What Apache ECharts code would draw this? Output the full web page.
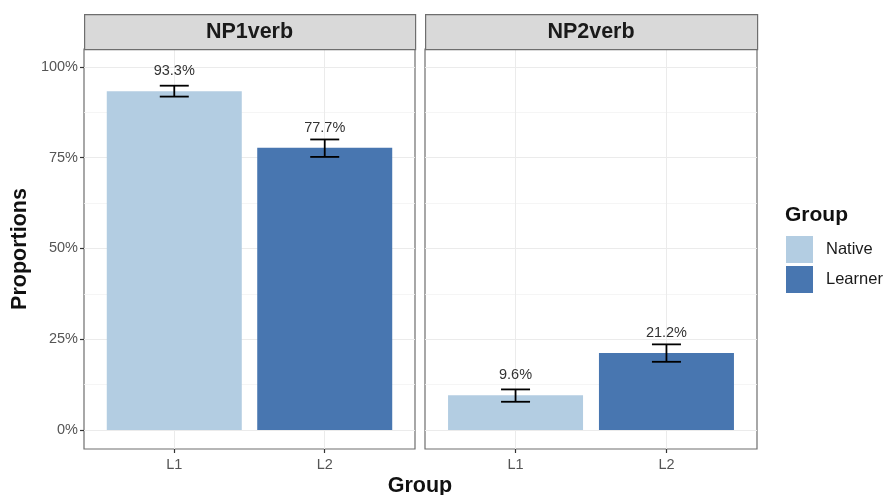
<!DOCTYPE html>
<html>
<head>
<meta charset="utf-8">
<script src="https://cdn.jsdelivr.net/npm/echarts@6/dist/echarts.min.js"></script>
<style>html,body{margin:0;padding:0;background:#fff}#c{width:885px;height:495px}</style>
</head>
<body>
<div id="c"></div>
<script>
const panels = ['NP1verb', 'NP2verb'];
const categories = ['L1', 'L2'];
const groups = ['Native', 'Learner'];
const nativeValues = [93.3, 9.6];     // L1 per panel
const learnerValues = [77.7, 21.2];   // L2 per panel
const nativeLower = [91.8, 7.8];
const nativeUpper = [94.8, 11.2];
const learnerLower = [75.2, 18.8];
const learnerUpper = [80.0, 23.6];
const yTicks = [0, 25, 50, 75, 100];
const yMinor = [12.5, 37.5, 62.5, 87.5];

const colors = ['#b3cde2', '#4876b0'];
const FONT = 'Liberation Sans, Arial, sans-serif';

const chart = echarts.init(document.getElementById('c'));

const gridsPos = [{left: 84, width: 331}, {left: 425, width: 332}];
const grids = gridsPos.map(g => ({left: g.left, width: g.width, top: 49, height: 400,
  show: true, borderColor: '#6e6e6e', borderWidth: 1.2, backgroundColor: '#fff', containLabel: false}));

const xAxes = [], yAxes = [];
panels.forEach((p, i) => {
  xAxes.push({
    type: 'value', gridIndex: i, min: 0.4, max: 2.6, position: 'bottom',
    axisLine: {show: false, onZero: false},
    axisTick: {show: true, customValues: [1, 2], length: 4, lineStyle: {color: '#333', width: 1.2}},
    axisLabel: {show: true, customValues: [1, 2], formatter: v => categories[Math.round(v) - 1],
      color: '#555', fontSize: 14.5, fontFamily: FONT, margin: 8},
    splitLine: {show: true, lineStyle: {color: '#ebebeb', width: 1}}
  });
  yAxes.push({
    type: 'value', gridIndex: i, min: -5.2, max: 104.9,
    axisLine: {show: false, onZero: false},
    axisTick: {show: i === 0, customValues: yTicks, length: 4, lineStyle: {color: '#333', width: 1.2}},
    axisLabel: {show: i === 0, customValues: yTicks, formatter: v => v + '%',
      color: '#555', fontSize: 14.5, fontFamily: FONT, margin: 6},
    splitLine: {show: true, lineStyle: {color: '#ebebeb', width: 1}},
    name: i === 0 ? 'Proportions' : '', nameLocation: 'middle', nameGap: 53,
    nameTextStyle: {fontSize: 21.5, fontWeight: 'bold', color: '#111', fontFamily: FONT}
  });
});
// minor grid lines (hidden axes)
panels.forEach((p, i) => {
  yAxes.push({
    type: 'value', gridIndex: i, min: -5.2, max: 104.9,
    axisLine: {show: false, onZero: false}, axisLabel: {show: false, customValues: yMinor},
    axisTick: {show: false, customValues: yMinor},
    splitLine: {show: true, lineStyle: {color: '#f2f2f2', width: 0.8}}
  });
});

const series = [];
panels.forEach((p, i) => {
  [[nativeValues, 1, 0], [learnerValues, 2, 1]].forEach(([vals, x, gi]) => {
    series.push({
      type: 'bar', name: groups[gi], xAxisIndex: i, yAxisIndex: i,
      data: [[x, vals[i]]], barWidth: 135, barGap: '-100%',
      itemStyle: {color: colors[gi]},
      label: {show: true, position: 'top', distance: 12.5, fontSize: 14.5, color: '#333', fontFamily: FONT,
        formatter: d => d.value[1].toFixed(1) + '%'},
      z: 2
    });
  });
  series.push({
    type: 'custom', xAxisIndex: i, yAxisIndex: i, silent: true, z: 5,
    data: [[1, nativeLower[i], nativeUpper[i]], [2, learnerLower[i], learnerUpper[i]]],
    renderItem: (params, api) => {
      const lo = api.coord([api.value(0), api.value(1)]);
      const hi = api.coord([api.value(0), api.value(2)]);
      const hw = 14.5;
      const st = {stroke: '#000', lineWidth: 1.8};
      return {type: 'group', children: [
        {type: 'line', shape: {x1: lo[0], y1: lo[1], x2: hi[0], y2: hi[1]}, style: st},
        {type: 'line', shape: {x1: lo[0] - hw, y1: lo[1], x2: lo[0] + hw, y2: lo[1]}, style: st},
        {type: 'line', shape: {x1: hi[0] - hw, y1: hi[1], x2: hi[0] + hw, y2: hi[1]}, style: st}
      ]};
    }
  });
});

const graphic = [];
gridsPos.forEach((g, i) => {
  graphic.push({type: 'rect', left: g.left, top: 14, shape: {width: g.width, height: 35},
    style: {fill: '#d9d9d9', stroke: '#6e6e6e', lineWidth: 1.2}, z: 10});
  graphic.push({type: 'text', x: g.left + g.width / 2, y: 32,
    style: {text: panels[i], font: 'bold 21.5px ' + FONT, fill: '#1a1a1a', textAlign: 'center', textVerticalAlign: 'middle'}, z: 11});
});
graphic.push({type: 'text', x: 420, y: 486,
  style: {text: 'Group', font: 'bold 21.5px ' + FONT, fill: '#111', textAlign: 'center', textVerticalAlign: 'middle'}});
graphic.push({type: 'text', x: 785, y: 215,
  style: {text: 'Group', font: 'bold 21px ' + FONT, fill: '#111', textAlign: 'left', textVerticalAlign: 'middle'}});

chart.setOption({
  animation: false,
  grid: grids,
  xAxis: xAxes,
  yAxis: yAxes,
  legend: {data: groups, orient: 'vertical', left: 786, top: 236, padding: 0, icon: 'rect',
    itemWidth: 27, itemHeight: 27, itemGap: 3,
    textStyle: {fontSize: 16.5, color: '#1a1a1a', fontFamily: FONT, padding: [0, 0, 0, 8]}},
  series: series,
  graphic: graphic
});
</script>
</body>
</html>
